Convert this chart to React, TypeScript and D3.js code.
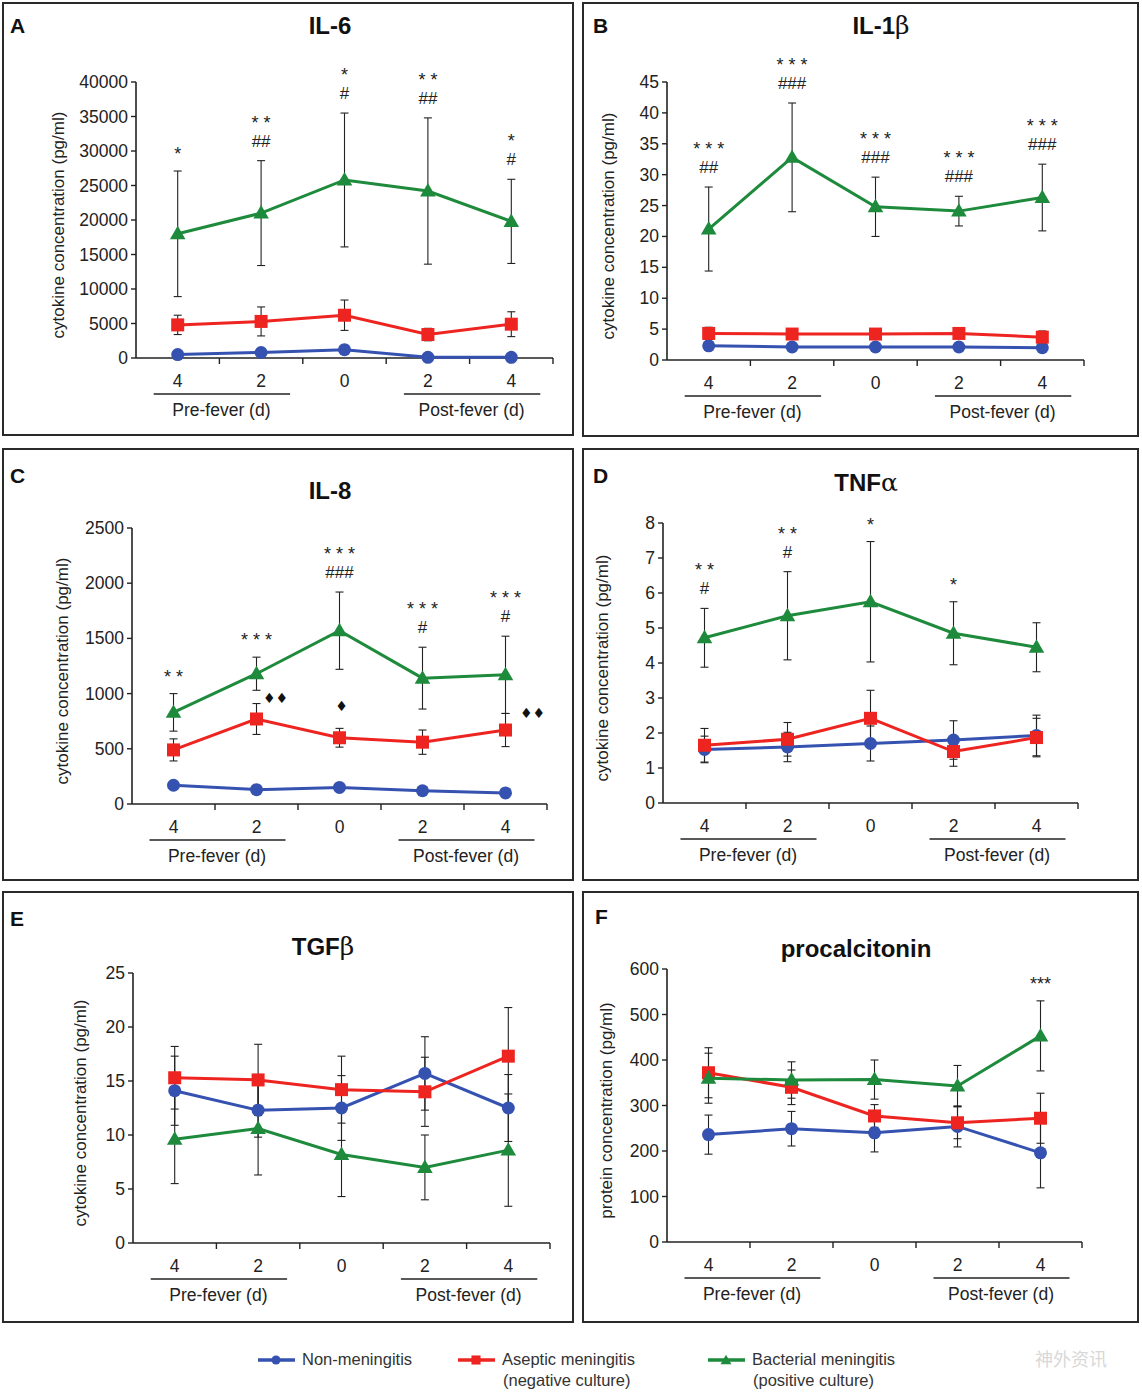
import * as d3 from "d3";

const W = 1142;
const H = 1396;
const FONT = "'Liberation Sans', Arial, sans-serif";
const NARROW = "'Liberation Sans Narrow', 'Arial Narrow', 'Liberation Sans', sans-serif";

// time points (days before / after fever)
const DAYS = ["4", "2", "0", "2", "4"];

const COLORS = { non: "#3552b0", asep: "#ee2420", bact: "#1e8a3c" };

// IL-6
const IL6_NON = [500, 800, 1200, 100, 100];
const IL6_NON_ERR = [200, 200, 300, 100, 100];
const IL6_ASEP = [4800, 5300, 6200, 3400, 4900];
const IL6_ASEP_ERR = [1400, 2100, 2200, 900, 1800];
const IL6_BACT = [18000, 21000, 25800, 24200, 19800];
const IL6_BACT_ERR = [9100, 7600, 9700, 10600, 6100];
const IL6_MARKS = [["*"], ["* *", "##"], ["*", "#"], ["* *", "##"], ["*", "#"]];

// IL-1beta
const IL1B_NON = [2.3, 2.1, 2.1, 2.1, 2.0];
const IL1B_NON_ERR = [0.3, 0.2, 0.2, 0.2, 0.2];
const IL1B_ASEP = [4.3, 4.2, 4.2, 4.3, 3.7];
const IL1B_ASEP_ERR = [1.0, 0.6, 0.6, 0.6, 1.0];
const IL1B_BACT = [21.2, 32.8, 24.8, 24.1, 26.3];
const IL1B_BACT_ERR = [6.8, 8.8, 4.8, 2.4, 5.4];
const IL1B_MARKS = [["* * *", "##"], ["* * *", "###"], ["* * *", "###"], ["* * *", "###"], ["* * *", "###"]];

// IL-8
const IL8_NON = [170, 130, 150, 120, 100];
const IL8_NON_ERR = [30, 25, 25, 25, 25];
const IL8_ASEP = [490, 770, 600, 560, 670];
const IL8_ASEP_ERR = [100, 140, 85, 110, 150];
const IL8_BACT = [830, 1180, 1570, 1140, 1170];
const IL8_BACT_ERR = [170, 150, 350, 280, 350];
const IL8_MARKS = [["* *"], ["* * *"], ["* * *", "###"], ["* * *", "#"], ["* * *", "#"]];
const IL8_DIAMONDS = [
  { i: 1, value: 960, text: "♦♦", dx: 19 },
  { i: 2, value: 890, text: "♦", dx: 2 },
  { i: 4, value: 825, text: "♦♦", dx: 27 },
];

// TNF-alpha
const TNF_NON = [1.53, 1.6, 1.7, 1.8, 1.93];
const TNF_NON_ERR = [0.38, 0.42, 0.5, 0.55, 0.58];
const TNF_ASEP = [1.65, 1.82, 2.42, 1.47, 1.87];
const TNF_ASEP_ERR = [0.48, 0.48, 0.8, 0.42, 0.55];
const TNF_BACT = [4.72, 5.35, 5.75, 4.85, 4.45];
const TNF_BACT_ERR = [0.84, 1.26, 1.72, 0.9, 0.7];
const TNF_MARKS = [["* *", "#"], ["* *", "#"], ["*"], ["*"], []];

// TGF-beta
const TGFB_NON = [14.1, 12.3, 12.5, 15.7, 12.5];
const TGFB_NON_ERR = [3.2, 2.5, 3.0, 3.4, 3.1];
const TGFB_ASEP = [15.3, 15.1, 14.2, 14.0, 17.3];
const TGFB_ASEP_ERR = [2.9, 3.3, 3.1, 3.2, 4.5];
const TGFB_BACT = [9.6, 10.6, 8.2, 7.0, 8.6];
const TGFB_BACT_ERR = [4.1, 4.3, 3.9, 3.0, 5.2];
const TGFB_MARKS = [[], [], [], [], []];

// procalcitonin
const PCT_NON = [236, 249, 240, 254, 196];
const PCT_NON_ERR = [43, 38, 42, 45, 77];
const PCT_ASEP = [372, 340, 277, 262, 272];
const PCT_ASEP_ERR = [55, 38, 25, 35, 55];
const PCT_BACT = [360, 356, 357, 343, 453];
const PCT_BACT_ERR = [55, 40, 43, 45, 77];
const PCT_MARKS = [[], [], [], [], ["***"]];

type PanelCfg = {
  letter: string;
  title: string;
  greek?: string;
  ylabel: string;
  max: number;
  step: number;
  box: [number, number, number, number];
  plot: [number, number, number, number]; // x0, x1, yTop, yBottom
  titleXY: [number, number];
  letterXY: [number, number];
  ylabelX: number;
  non: number[]; nonErr: number[];
  asep: number[]; asepErr: number[];
  bact: number[]; bactErr: number[];
  marks: string[][];
  diamonds?: { i: number; value: number; text: string; dx: number }[];
};

const PANELS: PanelCfg[] = [
  {
    letter: "A", title: "IL-6", ylabel: "cytokine concentration (pg/ml)", max: 40000, step: 5000,
    box: [3, 3, 570, 432], plot: [136, 553, 82, 358], titleXY: [330, 34], letterXY: [10, 33], ylabelX: 64,
    non: IL6_NON, nonErr: IL6_NON_ERR, asep: IL6_ASEP, asepErr: IL6_ASEP_ERR, bact: IL6_BACT, bactErr: IL6_BACT_ERR,
    marks: IL6_MARKS,
  },
  {
    letter: "B", title: "IL-1", greek: "β", ylabel: "cytokine concentration (pg/ml)", max: 45, step: 5,
    box: [583, 3, 555, 433], plot: [667, 1084, 82, 360], titleXY: [881, 34], letterXY: [593, 33], ylabelX: 614,
    non: IL1B_NON, nonErr: IL1B_NON_ERR, asep: IL1B_ASEP, asepErr: IL1B_ASEP_ERR, bact: IL1B_BACT, bactErr: IL1B_BACT_ERR,
    marks: IL1B_MARKS,
  },
  {
    letter: "C", title: "IL-8", ylabel: "cytokine concentration (pg/ml)", max: 2500, step: 500,
    box: [3, 449, 570, 431], plot: [132, 547, 528, 804], titleXY: [330, 499], letterXY: [10, 483], ylabelX: 68,
    non: IL8_NON, nonErr: IL8_NON_ERR, asep: IL8_ASEP, asepErr: IL8_ASEP_ERR, bact: IL8_BACT, bactErr: IL8_BACT_ERR,
    marks: IL8_MARKS, diamonds: IL8_DIAMONDS,
  },
  {
    letter: "D", title: "TNF", greek: "α", ylabel: "cytokine concentration (pg/ml)", max: 8, step: 1,
    box: [583, 449, 555, 431], plot: [663, 1078, 523, 803], titleXY: [866, 491], letterXY: [593, 483], ylabelX: 608,
    non: TNF_NON, nonErr: TNF_NON_ERR, asep: TNF_ASEP, asepErr: TNF_ASEP_ERR, bact: TNF_BACT, bactErr: TNF_BACT_ERR,
    marks: TNF_MARKS,
  },
  {
    letter: "E", title: "TGF", greek: "β", ylabel: "cytokine concentration (pg/ml)", max: 25, step: 5,
    box: [3, 892, 570, 430], plot: [133, 550, 973, 1243], titleXY: [323, 955], letterXY: [10, 926], ylabelX: 86,
    non: TGFB_NON, nonErr: TGFB_NON_ERR, asep: TGFB_ASEP, asepErr: TGFB_ASEP_ERR, bact: TGFB_BACT, bactErr: TGFB_BACT_ERR,
    marks: TGFB_MARKS,
  },
  {
    letter: "F", title: "procalcitonin", ylabel: "protein concentration (pg/ml)", max: 600, step: 100,
    box: [583, 892, 555, 430], plot: [667, 1082, 969, 1242], titleXY: [856, 957], letterXY: [595, 924], ylabelX: 612,
    non: PCT_NON, nonErr: PCT_NON_ERR, asep: PCT_ASEP, asepErr: PCT_ASEP_ERR, bact: PCT_BACT, bactErr: PCT_BACT_ERR,
    marks: PCT_MARKS,
  },
];

function Marker({ kind, x, y, color, s = 1 }: { kind: string; x: number; y: number; color: string; s?: number }) {
  if (kind === "non") return <circle cx={x} cy={y} r={6.5 * s} fill={color} />;
  if (kind === "asep") return <rect x={x - 6.5 * s} y={y - 6.5 * s} width={13 * s} height={13 * s} fill={color} />;
  const tri = d3.symbol().type(d3.symbolTriangle).size(105 * s * s)();
  return <path d={tri || ""} transform={`translate(${x},${y + 1})`} fill={color} />;
}

function Panel({ cfg }: { cfg: PanelCfg }) {
  const [x0, x1, yTop, yBot] = cfg.plot;
  const x = d3.scaleBand<number>().domain(DAYS.map((_, i) => i)).range([x0, x1]);
  const bw = x.bandwidth();
  const xc = (i: number) => (x(i) as number) + bw / 2;
  const y = d3.scaleLinear().domain([0, cfg.max]).range([yBot, yTop]);
  const ticks = d3.range(0, cfg.max + cfg.step / 2, cfg.step);
  const line = d3.line<number>().x((_, i) => xc(i)).y((d) => y(d));

  const series = [
    { kind: "non", vals: cfg.non, err: cfg.nonErr },
    { kind: "asep", vals: cfg.asep, err: cfg.asepErr },
    { kind: "bact", vals: cfg.bact, err: cfg.bactErr },
  ];

  const [bx, by, bwid, bht] = cfg.box;
  const labelY = yBot + 29;
  const barY = yBot + 36;
  const groupY = yBot + 58;

  return (
    <g>
      <rect x={bx} y={by} width={bwid} height={bht} fill="none" stroke="#2a2a2a" strokeWidth={2} />
      <text x={cfg.letterXY[0]} y={cfg.letterXY[1]} fontFamily={FONT} fontWeight="bold" fontSize={21} fill="#111">
        {cfg.letter}
      </text>
      <text x={cfg.titleXY[0]} y={cfg.titleXY[1]} textAnchor="middle" fontFamily={FONT} fontWeight="bold" fontSize={24} fill="#111">
        {cfg.title}
        {cfg.greek && (
          <tspan fontFamily="'DejaVu Serif', 'Liberation Serif', serif" fontWeight="normal" fontSize={25}>
            {cfg.greek}
          </tspan>
        )}
      </text>

      {/* y axis */}
      <line x1={x0} x2={x0} y1={yTop} y2={yBot} stroke="#222" strokeWidth={1.6} />
      {ticks.map((t) => (
        <g key={t}>
          <line x1={x0 - 5} x2={x0} y1={y(t)} y2={y(t)} stroke="#222" strokeWidth={1.4} />
          <text x={x0 - 8} y={y(t) + 6} textAnchor="end" fontFamily={FONT} fontSize={17.5} fill="#222">
            {t}
          </text>
        </g>
      ))}
      <text
        transform={`translate(${cfg.ylabelX},${(yTop + yBot) / 2 + 5}) rotate(-90)`}
        textAnchor="middle"
        fontFamily={FONT}
        fontSize={17}
        fill="#222"
      >
        {cfg.ylabel}
      </text>

      {/* x axis */}
      <line x1={x0} x2={x1} y1={yBot} y2={yBot} stroke="#222" strokeWidth={1.6} />
      {DAYS.map((d, i) => (
        <g key={i}>
          <line x1={(x(i) as number) + bw} x2={(x(i) as number) + bw} y1={yBot} y2={yBot + 6} stroke="#222" strokeWidth={1.4} />
          <text x={xc(i)} y={labelY} textAnchor="middle" fontFamily={FONT} fontSize={17.5} fill="#222">
            {d}
          </text>
        </g>
      ))}
      <line x1={xc(0) - 24} x2={xc(1) + 29} y1={barY} y2={barY} stroke="#222" strokeWidth={1.5} />
      <line x1={xc(3) - 24} x2={xc(4) + 29} y1={barY} y2={barY} stroke="#222" strokeWidth={1.5} />
      <text x={(xc(0) + xc(1)) / 2 + 2} y={groupY} textAnchor="middle" fontFamily={FONT} fontSize={17.5} fill="#222">
        Pre-fever (d)
      </text>
      <text x={(xc(3) + xc(4)) / 2 + 2} y={groupY} textAnchor="middle" fontFamily={FONT} fontSize={17.5} fill="#222">
        Post-fever (d)
      </text>

      {/* error bars */}
      {series.map((s) =>
        s.vals.map((v, i) => {
          const lo = y(Math.max(0, v - s.err[i]));
          const hi = y(v + s.err[i]);
          return (
            <g key={s.kind + i} stroke="#222" strokeWidth={1.1}>
              <line x1={xc(i)} x2={xc(i)} y1={lo} y2={hi} />
              <line x1={xc(i) - 4} x2={xc(i) + 4} y1={lo} y2={lo} />
              <line x1={xc(i) - 4} x2={xc(i) + 4} y1={hi} y2={hi} />
            </g>
          );
        })
      )}

      {/* lines and markers */}
      {series.map((s) => (
        <g key={s.kind}>
          <path d={line(s.vals) || ""} fill="none" stroke={COLORS[s.kind as keyof typeof COLORS]} strokeWidth={3} />
          {s.vals.map((v, i) => (
            <Marker key={i} kind={s.kind} x={xc(i)} y={y(v)} color={COLORS[s.kind as keyof typeof COLORS]} />
          ))}
        </g>
      ))}

      {/* significance marks above bacterial series: one text block per point */}
      {cfg.marks.map((lines, i) => {
        if (!lines.length) return null;
        const top = y(cfg.bact[i] + cfg.bactErr[i]);
        const firstY = top - 14 - (lines.length - 1) * 21 + (lines[0].startsWith("*") ? 3 : 0);
        return (
          <text key={i} x={xc(i)} textAnchor="middle" fontFamily={FONT} fill="#222" y={firstY}>
            {lines.map((t, j) => (
              <tspan
                key={j}
                x={xc(i)}
                dy={j === 0 ? 0 : 21 - (lines[0].startsWith("*") ? 3 : 0)}
                fontSize={t.startsWith("*") ? 18 : 17}
              >
                {t}
              </tspan>
            ))}
          </text>
        );
      })}
      {(cfg.diamonds || []).map((dm, k) => (
        <text key={k} x={xc(dm.i) + dm.dx} y={y(dm.value) + 5} textAnchor="middle" fontFamily="'DejaVu Sans', sans-serif" fontSize={14} fill="#111">
          {dm.text}
        </text>
      ))}
    </g>
  );
}

const LEGEND = [
  { kind: "non", lines: ["Non-meningitis"] },
  { kind: "asep", lines: ["Aseptic meningitis", "(negative culture)"] },
  { kind: "bact", lines: ["Bacterial meningitis", "(positive culture)"] },
];

export default function App() {
  const lx = d3.scaleOrdinal<string, number>().domain(LEGEND.map((l) => l.kind)).range([258, 458, 708]);
  return (
    <svg width={W} height={H} viewBox={`0 0 ${W} ${H}`} style={{ position: "absolute", left: 0, top: 0, background: "#fff" }}>
      <rect width={W} height={H} fill="#fff" />
      {PANELS.map((p) => (
        <Panel key={p.letter} cfg={p} />
      ))}
      {LEGEND.map((l) => {
        const x0 = lx(l.kind);
        const c = COLORS[l.kind as keyof typeof COLORS];
        return (
          <g key={l.kind}>
            <line x1={x0} x2={x0 + 37} y1={1360} y2={1360} stroke={c} strokeWidth={3.5} />
            <Marker kind={l.kind} x={x0 + 18} y={1360} color={c} s={0.7} />
            <text x={x0 + 44} y={1365} fontFamily={NARROW} fontSize={16.5} fill="#333">
              {l.lines.map((t, j) => (
                <tspan key={j} x={x0 + 44 + (j > 0 ? 1 : 0)} dy={j === 0 ? 0 : 21}>
                  {t}
                </tspan>
              ))}
            </text>
          </g>
        );
      })}
      <text x={1035} y={1366} fontFamily="'Noto Sans CJK SC', sans-serif" fontSize={18} fill="#d8d8d8">
        神外资讯
      </text>
    </svg>
  );
}
